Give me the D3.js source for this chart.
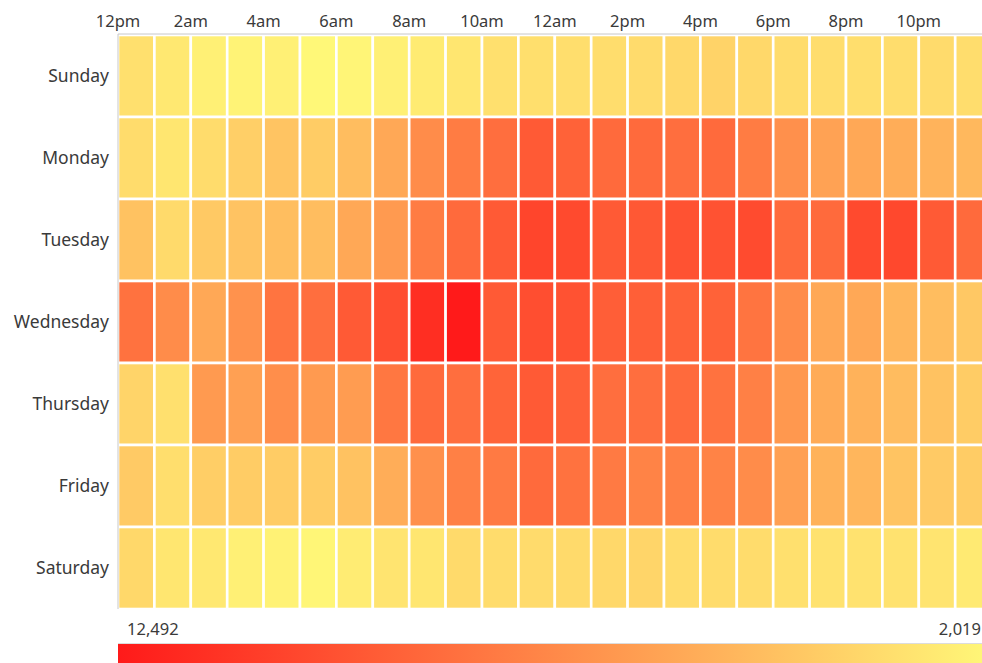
<!DOCTYPE html>
<html>
<head>
<meta charset="utf-8">
<script src="https://cdn.jsdelivr.net/npm/d3@7"></script>
<style>
  html, body { margin: 0; padding: 0; background: #fff; overflow: hidden; }
  text { font-family: "Segoe UI", "Noto Sans", "Open Sans", sans-serif; fill: #3a3a3a; }
</style>
</head>
<body>
<svg id="chart" width="982" height="663"></svg>
<script>
const days = ["Sunday", "Monday", "Tuesday", "Wednesday", "Thursday", "Friday", "Saturday"];
const hours = d3.range(24);
const hourLabels = ["12pm", "2am", "4am", "6am", "8am", "10am", "12am", "2pm", "4pm", "6pm", "8pm", "10pm"];

const sunday    = [3151, 2774, 2396, 2255, 2396, 2019, 2161, 2396, 2632, 2868, 3151, 3199, 3246, 3293, 3387, 3529, 3765, 3529, 3340, 3293, 3246, 3293, 3387, 3293];
const monday    = [3340, 2868, 3340, 3953, 4472, 4095, 4803, 5793, 7114, 7869, 8530, 9474, 9097, 8719, 8719, 8530, 8719, 7869, 6926, 6076, 5793, 5557, 5274, 5039];
const tuesday   = [4567, 3434, 4237, 4520, 4755, 4803, 5793, 6454, 7869, 8719, 9474, 10464, 10228, 9474, 9569, 9851, 9851, 10181, 8719, 8719, 10228, 10323, 9474, 8719];
const wednesday = [8341, 7114, 5793, 6831, 8247, 8530, 9474, 10040, 11549, 12492, 9474, 10040, 9851, 9286, 9238, 9097, 9097, 8247, 7114, 5793, 5793, 5133, 4803, 4284];
const thursday  = [3717, 3151, 6454, 6171, 7020, 6454, 6359, 8105, 8719, 8530, 9002, 9474, 9191, 8530, 8530, 8719, 8341, 7681, 6548, 5652, 5322, 4850, 4567, 4095];
const friday    = [4189, 3246, 4001, 4095, 4095, 4095, 4567, 5557, 6926, 7681, 7964, 8719, 8341, 7964, 7539, 7681, 7539, 7114, 6171, 5322, 5133, 4472, 4189, 4095];
const saturday  = [3529, 2868, 2774, 2396, 2302, 2113, 2585, 2963, 2868, 3434, 3340, 3387, 3434, 3529, 3670, 3340, 3340, 3340, 3151, 3057, 3057, 3057, 2963, 2680];

const series = [sunday, monday, tuesday, wednesday, thursday, friday, saturday];

const cells = [];
series.forEach((vals, di) => vals.forEach((v, h) => cells.push({ day: days[di], hour: h, value: v })));

const svg = d3.select("#chart");
const mLeft = 118, mRight = 991.6, mTop = 35, mBottom = 609;

const x = d3.scaleBand().domain(hours).range([mLeft, mRight]).padding(0);
const y = d3.scaleBand().domain(days).range([mTop, mBottom]).padding(0);

const extent = d3.extent(cells, d => d.value);
const color = d3.scaleLinear().domain([extent[1], extent[0]]).range(["#ff1a1a", "#fff878"]).interpolate(d3.interpolateRgb);

svg.append("g").selectAll("rect").data(cells).join("rect")
  .attr("x", d => x(d.hour))
  .attr("y", d => y(d.day))
  .attr("width", x.bandwidth())
  .attr("height", y.bandwidth())
  .attr("fill", d => color(d.value))
  .attr("stroke", "#fff")
  .attr("stroke-width", 2.6);

// axis lines
svg.append("line").attr("x1", mLeft).attr("x2", 982).attr("y1", mTop - 1).attr("y2", mTop - 1)
  .attr("stroke", "#c8c8c8").attr("stroke-width", 1);
svg.append("line").attr("x1", mLeft).attr("x2", mLeft).attr("y1", mTop - 1).attr("y2", mBottom)
  .attr("stroke", "#c8c8c8").attr("stroke-width", 1);

// top hour labels
svg.append("g").selectAll("text").data(hourLabels).join("text")
  .attr("x", (d, i) => x(i * 2))
  .attr("y", 27)
  .attr("text-anchor", "middle")
  .attr("font-size", 16.5)
  .text(d => d);

// day labels
svg.append("g").selectAll("text").data(days).join("text")
  .attr("x", 109)
  .attr("y", d => y(d) + y.bandwidth() / 2)
  .attr("dy", "0.35em")
  .attr("text-anchor", "end")
  .attr("font-size", 17.5)
  .text(d => d);

// legend
const defs = svg.append("defs");
const grad = defs.append("linearGradient").attr("id", "lg").attr("x1", "0%").attr("x2", "100%");
d3.range(0, 1.0001, 0.1).forEach(t => {
  grad.append("stop").attr("offset", (t * 100) + "%").attr("stop-color", color(extent[1] - t * (extent[1] - extent[0])));
});
svg.append("line").attr("x1", mLeft).attr("x2", 982).attr("y1", 643.5).attr("y2", 643.5)
  .attr("stroke", "#dcdcdc").attr("stroke-width", 1);
svg.append("rect").attr("x", mLeft).attr("y", 644).attr("width", mRight - mLeft).attr("height", 22)
  .attr("fill", "url(#lg)");

const fmt = d3.format(",");
svg.append("text").attr("x", 127).attr("y", 635).attr("font-size", 16.5).text(fmt(extent[1]));
svg.append("text").attr("x", 981).attr("y", 635).attr("font-size", 16.5).attr("text-anchor", "end").text(fmt(extent[0]));
</script>
</body>
</html>
